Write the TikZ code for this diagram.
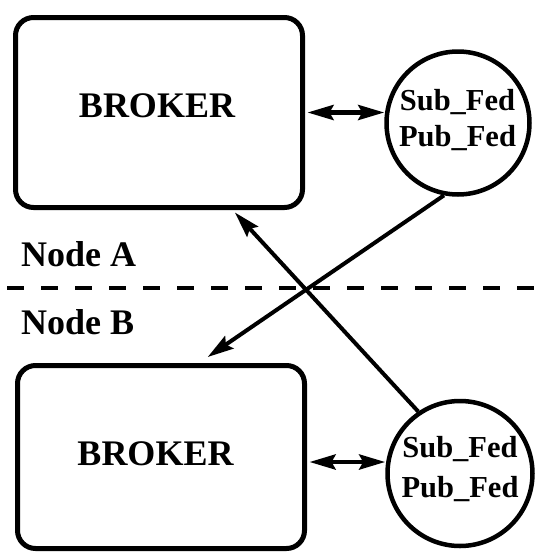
\documentclass[tikz,border=0pt]{standalone}
\usepackage{fontspec}
\setmainfont{Liberation Serif}
\usetikzlibrary{arrows.meta,calc}
\tikzset{
  brokerbox/.style={draw, line width=5pt, rounded corners=18pt, inner sep=0pt,
    minimum width=287pt},
  fedcircle/.style={draw, circle, line width=4.5pt, inner sep=0pt},
  bigtext/.style={font=\fontsize{36}{42}\selectfont\bfseries, inner sep=0pt},
  fedtext/.style={font=\fontsize{30.5}{35}\selectfont\bfseries, inner sep=0pt, anchor=base},
  link/.style={line width=4pt, -{Stealth[length=26pt,width=15pt,inset=4pt]}},
  duplex/.style={line width=4.5pt,
    {Stealth[length=26pt,width=15pt,inset=4pt]}-{Stealth[length=26pt,width=15pt,inset=4pt]}},
  divider/.style={line width=4pt, dash pattern=on 17pt off 17pt}
}
\begin{document}
\begin{tikzpicture}[x=1pt,y=-1pt]
\useasboundingbox (0,0) rectangle (536,552);

% brokers
\node[brokerbox, minimum height=190pt] (tb) at (159,112.5) {};
\node[brokerbox, minimum height=183pt] (bb) at (161,457) {};
\node[bigtext, anchor=base] (tbt) at (157,117) {BROKER};
\node[bigtext, anchor=base] (bbt) at (155.5,465) {BROKER};

% federation endpoints
\node[fedcircle, minimum size=143pt] (c1) at (458,123) {};
\node[fedcircle, minimum size=145pt] (c2) at (460,473.5) {};
\node[fedtext] (c1s) at (457.5,110) {Sub\_Fed};
\node[fedtext] (c1p) at (457.5,146) {Pub\_Fed};
\node[fedtext] (c2s) at (460,457) {Sub\_Fed};
\node[fedtext] (c2p) at (460,497) {Pub\_Fed};

% node boundary
\draw[divider] (7,288) -- (536,288);
\node[bigtext, anchor=base west] (na) at (21,266) {Node A};
\node[bigtext, anchor=base west] (nb) at (21,334) {Node B};

% local links
\draw[duplex, shorten <=2.5pt] (tb.east) -- (tb.east -| c1.west);
\draw[duplex, shorten <=2.5pt] ([yshift=-5pt]bb.east) -- ([yshift=-5pt]bb.east -| c2.west);

% cross-node links
\draw[link] (c1.-101) -- ($(bb.north west)!0.66!(bb.north east)+(0,-6)$);
\draw[link] (c2.124) -- ($(tb.south west)!0.76!(tb.south east)+(0,2.5)$);
\end{tikzpicture}
\end{document}
